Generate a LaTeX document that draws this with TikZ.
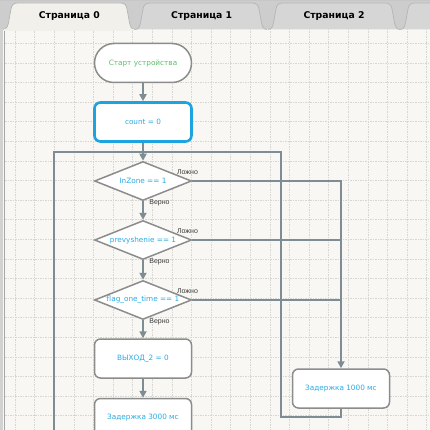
\documentclass[tikz,border=0pt]{standalone}
\usepackage{fontspec}
\setmainfont{DejaVu Sans}
\newfontfamily\labfont{Liberation Sans}
\usetikzlibrary{arrows.meta,shapes.geometric}
\definecolor{canvasbg}{HTML}{F8F7F3}
\definecolor{gridc}{HTML}{D6D6D3}
\definecolor{connc}{HTML}{7E8D94}
\definecolor{boxc}{HTML}{8C8C8C}
\definecolor{bluec}{HTML}{1DA3E0}
\definecolor{textblue}{HTML}{2AAAE2}
\definecolor{textgreen}{HTML}{5DBE6A}
\definecolor{tabbar}{HTML}{CDCDCD}
\definecolor{tabin}{HTML}{D6D6D6}
\definecolor{tabedge}{HTML}{B5B5B5}
\definecolor{tabact}{HTML}{F2F0EB}
\definecolor{labc}{HTML}{3A3A3A}
\begin{document}
\begin{tikzpicture}[x=1pt,y=-1pt,
  gridln/.style={gridc, line width=0.6pt, dash pattern=on 1.5pt off 1pt},
  conn/.style={connc, line width=2pt},
  arr/.style={conn, -{Triangle[width=7pt,length=7pt]}},
  blk/.style={draw=boxc, line width=1.5pt, fill=white, rounded corners=6pt,
    minimum width=97pt, minimum height=39pt, inner sep=0pt,
    font=\fontsize{7.3}{8.5}\selectfont, text=textblue},
  term/.style={blk, rounded corners=19.5pt, text=textgreen},
  actblk/.style={blk, draw=bluec, line width=2.6pt},
  cond/.style={diamond, aspect=2.5, draw=boxc, line width=1.5pt, fill=white,
    minimum width=97pt, minimum height=39pt, inner sep=0pt,
    font=\fontsize{7.3}{8.5}\selectfont, text=textblue},
  lab/.style={font=\labfont\fontsize{7}{8}\selectfont, text=labc, inner sep=0pt},
  tabtxt/.style={font=\bfseries\fontsize{9.3}{11}\selectfont, text=black, inner sep=0pt},
  tabshape/.style={draw=tabedge, line width=0.7pt, fill=tabin}
]
\useasboundingbox (0,0) rectangle (430,430);
\begin{scope}
\clip (0,0) rectangle (430,430);
% canvas
\fill[canvasbg] (0,0) rectangle (430,430);
\foreach \i in {0,...,21} \draw[gridln] ({15+19.6*\i},29) -- ({15+19.6*\i},430);
\foreach \k in {0,...,20} \draw[gridln] (5,{43.3+19.6*\k}) -- (430,{43.3+19.6*\k});
% left panel
\fill[tabbar!90!white] (0,0) rectangle (3.4,430);
\draw[color=black!35, line width=1.2pt] (4.2,29) -- (4.2,430);
% tab bar
\fill[tabbar] (0,0) rectangle (430,29);
\fill[black!22] (0,0) rectangle (430,1.5);
\foreach \a in {532,400,268,135} {
  \path[tabshape] (\a,29.5) .. controls (\a+4,29.5) and (\a+5,26) .. (\a+6,20)
    -- (\a+8,9) .. controls (\a+9,4.5) and (\a+10.5,3) .. (\a+15,3)
    -- (\a+117,3) .. controls (\a+121.5,3) and (\a+123,4.5) .. (\a+124,9)
    -- (\a+126,20) .. controls (\a+127,26) and (\a+128,29.5) .. (\a+132,29.5);
}
\path[tabshape, fill=tabact] (3,29.5) .. controls (7,29.5) and (8,26) .. (9,20)
    -- (11,9) .. controls (12,4.5) and (13.5,3) .. (18,3)
    -- (120,3) .. controls (124.5,3) and (126,4.5) .. (127,9)
    -- (129,20) .. controls (130,26) and (131,29.5) .. (135,29.5);
\fill[tabact] (4,29) rectangle (134,31);
\end{scope}
\node[tabtxt] (tab0) at (69.3,16.5) {Страница 0};
\node[tabtxt] (tab1) at (201.7,16.5) {Страница 1};
\node[tabtxt] (tab2) at (334,16.5) {Страница 2};

% loop coordinates
\coordinate (jn) at (143,152);
\coordinate (lpL) at (54,152);
\coordinate (lpLb) at (54,432);
\coordinate (lpR) at (281,152);
\coordinate (lpRb) at (281,417);

% nodes
\node[term] (start) at (143,63) {Старт устройства};
\node[actblk] (count) at (143,122) {count = 0};
\node[cond] (d1) at (143,181) {InZone == 1};
\node[cond] (d2) at (143,240) {prevyshenie == 1};
\node[cond] (d3) at (143,300) {flag\_one\_time == 1};
\node[blk] (vyh) at (143,358.5) {ВЫХОД\_2 = 0};
\node[blk] (z3) at (143,418) {Задержка 3000 мс};
\node[blk] (z1) at (341,388.5) {Задержка 1000 мс};

% connectors
\draw[conn] (lpLb) -- (lpL) -- (jn);
\draw[conn] (z1.south) -- (z1.south |- lpRb) -- (lpRb) -- (lpR) -- (jn);
\draw[arr] (start.south) -- (count.north);
\draw[arr] (count.south) -- (d1.north);
\draw[arr] (d1.south) -- (d2.north);
\draw[arr] (d2.south) -- (d3.north);
\draw[arr] (d3.south) -- (vyh.north);
\draw[arr] (vyh.south) -- (z3.north);
\draw[arr] (d1.east) -| (z1.north);
\draw[conn] (d2.east) -- (d2.east -| z1.north);
\draw[conn] (d3.east) -- (d3.east -| z1.north);

% labels
\node[lab] (f1) at ([shift={(44.5,-8.5)}]d1.center) {Ложно};
\node[lab] (t1) at ([shift={(16.5,21.5)}]d1.center) {Верно};
\node[lab] (f2) at ([shift={(44.5,-8.5)}]d2.center) {Ложно};
\node[lab] (t2) at ([shift={(16.5,21.5)}]d2.center) {Верно};
\node[lab] (f3) at ([shift={(44.5,-8.5)}]d3.center) {Ложно};
\node[lab] (t3) at ([shift={(16.5,21.5)}]d3.center) {Верно};
\end{tikzpicture}
\end{document}
